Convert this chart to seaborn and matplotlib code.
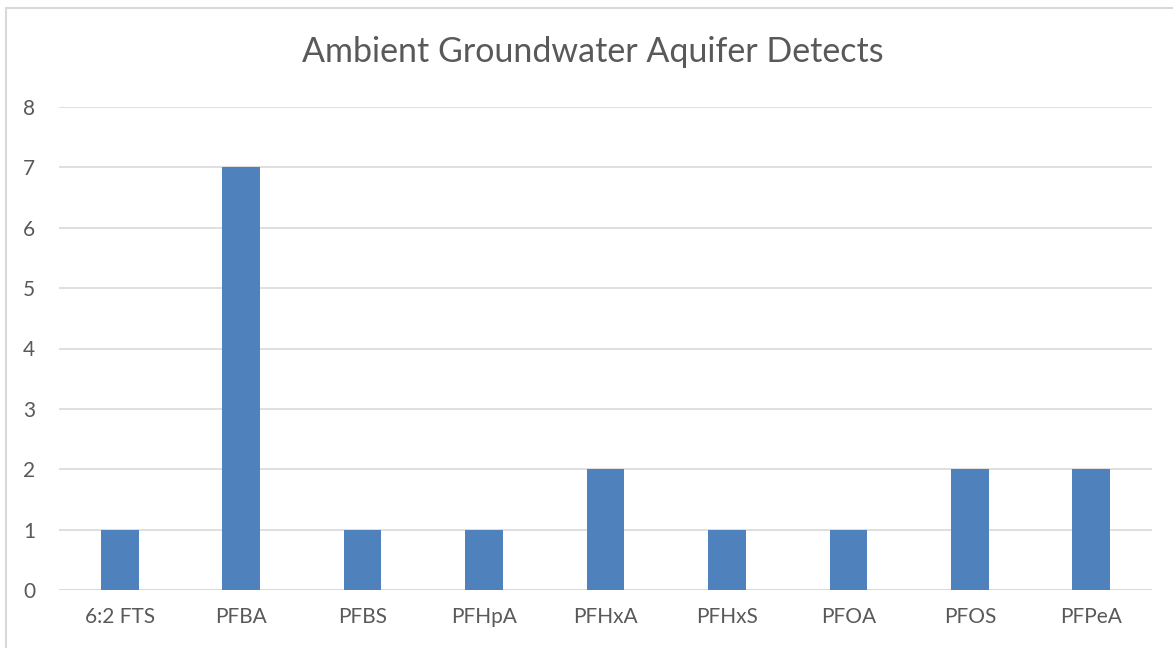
import matplotlib
matplotlib.use("Agg")
import matplotlib.pyplot as plt
import seaborn as sns
import pandas as pd
from matplotlib.lines import Line2D

categories = ["6:2 FTS", "PFBA", "PFBS", "PFHpA", "PFHxA", "PFHxS", "PFOA", "PFOS", "PFPeA"]
detects = [1, 7, 1, 1, 2, 1, 1, 2, 2]
y_ticks = [0, 1, 2, 3, 4, 5, 6, 7, 8]

sns.set_theme(style="white")
plt.rcParams['font.family'] = ['Lato', 'DejaVu Sans']

df = pd.DataFrame({"cat": categories, "val": detects})

fig = plt.figure(figsize=(11.73, 6.48), dpi=100)
ax = fig.add_axes([59/1173, 1-590/648, (1152-59)/1173, (590-107)/648])

sns.barplot(data=df, x="cat", y="val", color="#4F81BD", saturation=1, width=0.31,
            linewidth=0, ax=ax, zorder=3)

ax.set_ylim(0, 8)
ax.set_yticks(y_ticks)
ax.set_xlim(-0.5, len(categories)-0.5)
ax.yaxis.grid(True, color="#D9D9D9", linewidth=1.2, zorder=0)
ax.set_axisbelow(True)
for s in ax.spines.values():
    s.set_visible(False)
ax.axhline(0, color="#D9D9D9", linewidth=1.2, zorder=2)
ax.set_xlabel("")
ax.set_ylabel("")
ax.tick_params(axis="both", length=0, labelsize=15, labelcolor="#595959")
ax.tick_params(axis="y", pad=17)
ax.tick_params(axis="x", pad=12)

fig.suptitle("Ambient Groundwater Aquifer Detects", x=593/1173, y=1-52/648, va="center",
             fontsize=24.5, color="#595959")

# outer chart border
fig.add_artist(Line2D([6/1173, 6/1173], [0, 1-8/648], transform=fig.transFigure, color="#D9D9D9", linewidth=1.5))
fig.add_artist(Line2D([6/1173, 1], [1-8/648, 1-8/648], transform=fig.transFigure, color="#D9D9D9", linewidth=1.5))

fig.savefig("out.png", dpi=100, facecolor="white")
